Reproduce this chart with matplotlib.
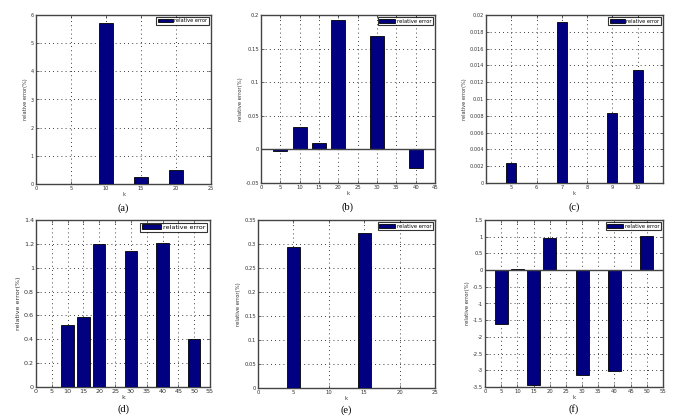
import numpy as np
import matplotlib
matplotlib.use("Agg")
import matplotlib.pyplot as plt

# data for the six panels
k_a = [10, 15, 20]
err_a = [5.72, 0.24, 0.49]

k_b = [5, 10, 15, 20, 30, 40]
err_b = [-0.003, 0.033, 0.010, 0.192, 0.169, -0.027]

k_c = [5, 7, 9, 10]
err_c = [0.0024, 0.0192, 0.0083, 0.0135]

k_d = [10, 15, 20, 30, 40, 50]
err_d = [0.52, 0.59, 1.20, 1.14, 1.21, 0.40]

k_e = [5, 15]
err_e = [0.293, 0.322]

k_f = [5, 10, 15, 20, 30, 40, 50]
err_f = [-1.62, 0.02, -3.43, 0.97, -3.15, -3.01, 1.03]

captions = ["(a)", "(b)", "(c)", "(d)", "(e)", "(f)"]

BAR = "#000080"
FRAME = "#444444"
W, H = 692, 419

fig = plt.figure(figsize=(W / 100, H / 100), dpi=100)


def make_axes(l, t, r, b):
    return fig.add_axes([l / W, 1 - b / H, (r - l) / W, (b - t) / H])


def style(ax, xlim, xticks, ylim, yticks, fs, yfmt=None):
    ax.set_xlim(*xlim)
    ax.set_ylim(*ylim)
    ax.set_xticks(xticks)
    ax.set_yticks(yticks)
    if yfmt is not None:
        ax.set_yticklabels([yfmt(v) for v in yticks])
    ax.grid(True, color="black", linestyle=(0, (1, 4)), linewidth=0.6)
    ax.set_axisbelow(True)
    ax.tick_params(direction="in", length=2, width=0.5, labelsize=fs,
                   colors="#333333", top=True, right=True, pad=1.5)
    for sp in ax.spines.values():
        sp.set_color(FRAME)
        sp.set_linewidth(1.0)
    ax.set_xlabel("k", fontsize=fs, labelpad=1, color="#333333")
    ax.set_ylabel("relative error(%)", fontsize=fs, labelpad=2, color="#333333")
    leg = ax.legend(loc="upper right", fontsize=fs, frameon=True, fancybox=False,
                    borderpad=0.3, handlelength=3.0, handletextpad=0.3,
                    borderaxespad=0.4)
    leg.get_frame().set_edgecolor("black")
    leg.get_frame().set_linewidth(0.8)


def fmt(v):
    s = "%g" % round(v, 6)
    return s


panels = [
    (k_a, err_a, 1.9, (36, 15, 211, 184), (0, 25), np.arange(0, 26, 5), (0, 6), np.arange(0, 7, 1), 3.6),
    (k_b, err_b, 3.7, (261, 15, 435, 183), (0, 45), np.arange(0, 46, 5), (-0.05, 0.2), np.arange(-0.05, 0.201, 0.05), 3.8),
    (k_c, err_c, 0.4, (486, 15, 663, 183), (4, 11), np.arange(5, 11, 1), (0, 0.02), np.arange(0, 0.0201, 0.002), 3.6),
    (k_d, err_d, 3.9, (36, 220, 210, 387), (0, 55), np.arange(0, 56, 5), (0, 1.4), np.arange(0, 1.41, 0.2), 4.6),
    (k_e, err_e, 1.8, (258, 220, 435, 388), (0, 25), np.arange(0, 26, 5), (0, 0.35), np.arange(0, 0.351, 0.05), 3.8),
    (k_f, err_f, 4.0, (485, 220, 663, 387), (0, 55), np.arange(0, 56, 5), (-3.5, 1.5), np.arange(-3.5, 1.51, 0.5), 3.8),
]

for i, (k, err, w, box, xl, xt, yl, yt, fs) in enumerate(panels):
    ax = make_axes(*box)
    ax.bar(k, err, width=w, color=BAR, edgecolor="black", linewidth=0.6,
           label="relative error", zorder=3)
    if yl[0] < 0:
        ax.axhline(0, color=FRAME, linewidth=1.0, zorder=4)
    style(ax, xl, xt, yl, yt, fs, yfmt=fmt)
    l, t, r, b = box
    cy = b + (24 if i < 3 else 22)
    fig.text((l + r) / 2 / W, 1 - cy / H, captions[i], ha="center", va="center",
             fontsize=7.5, family="Liberation Serif")

fig.savefig("out.png", dpi=100)
